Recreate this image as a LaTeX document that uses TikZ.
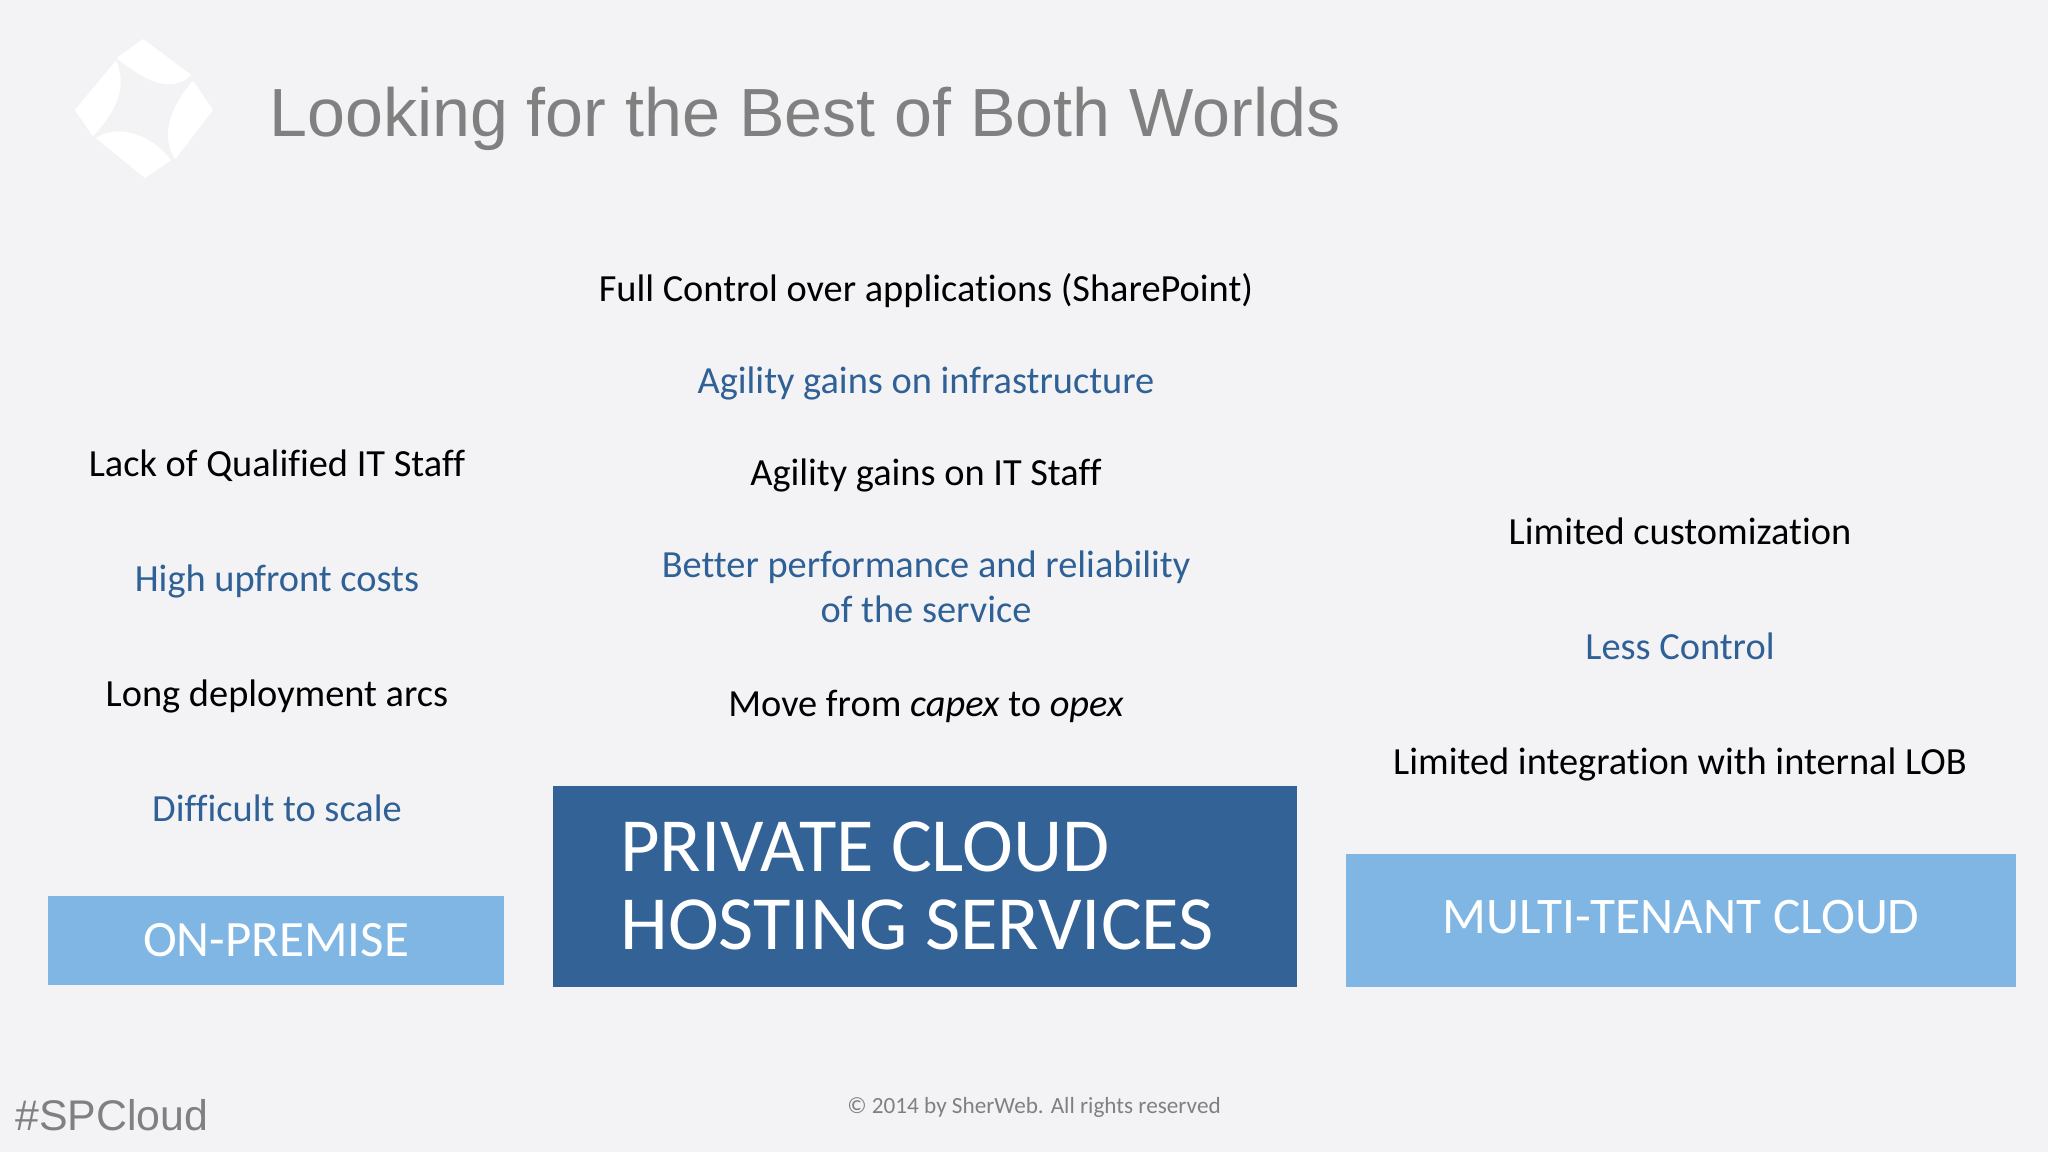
\documentclass[tikz,border=0pt]{standalone}
\usepackage{fontspec}
\setmainfont{Carlito}[Ligatures=NoCommon]
\newfontfamily\arialfont{Liberation Sans}
\usepackage{tikz}
\usetikzlibrary{positioning}
\definecolor{slidebg}{RGB}{243,243,245}
\definecolor{spblue}{RGB}{47,96,150}
\definecolor{spdark}{RGB}{51,98,150}
\definecolor{splight}{RGB}{128,182,228}
\definecolor{spgrey}{RGB}{128,128,128}
\tikzstyle{plain} = [font=\fontsize{21.85}{26}\selectfont, text=black, align=center, inner sep=0pt, anchor=center]
\tikzstyle{accent} = [plain, text=spblue]
\tikzstyle{band} = [rectangle, inner sep=0pt, text=white, font=\fontsize{29}{33}\selectfont, align=center]
\tikzstyle{petal} = [fill=white, draw=white, line width=1pt, line join=round]

\begin{document}
\begin{tikzpicture}[x=0.02cm, y=-0.02cm, node distance=2.3cm]

% Background
\fill[slidebg] (0,0) rectangle (2048,1152);
\useasboundingbox (0,0) rectangle (2048,1152);

% Logo
\fill[petal] (118,58) -- (143,40) -- (190,75) .. controls (175,90) and (150,85) .. (118,58) -- cycle;
\fill[petal] (116,62) -- (76,110) -- (93,135) .. controls (125,100) and (122,80) .. (116,62) -- cycle;
\fill[petal] (193,82) -- (212,110) -- (175,158) .. controls (165,140) and (165,115) .. (193,82) -- cycle;
\fill[petal] (97,138) -- (145,177) -- (170,160) .. controls (150,135) and (120,125) .. (97,138) -- cycle;

% Title
\node (title) [anchor=base west, inner sep=0pt, text=spgrey, font=\arialfont\fontsize{38.8}{46}\selectfont] at (269,137) {Looking for the Best of Both Worlds};

% Left column
\node (staff) [plain] at (277,466) {Lack of Qualified IT Staff};
\node (upfront) [accent, below of=staff] {High upfront costs};
\node (arcs) [plain, below of=upfront, node distance=2.32cm] {Long deployment arcs};
\node (scale) [accent, below of=arcs, node distance=2.22cm] {Difficult to scale};
\node (onprem) [band, fill=splight, minimum width=9.12cm, minimum height=1.78cm] at (276,940) {ON-PREMISE};

% Middle column
\node (control) [plain] at (926,291) {Full Control over applications (SharePoint)};
\node (agility) [accent, below of=control, node distance=1.84cm] {Agility gains on infrastructure};
\node (itstaff) [plain, below of=agility, node distance=1.86cm] {Agility gains on IT Staff};
\node (perf) [accent, below of=itstaff, node distance=2.22cm] {Better performance and reliability\\of the service};
\node (capex) [plain, below of=perf, node distance=2.4cm] {Move from \textit{capex} to \textit{opex}};
\node (private) [band, fill=spdark, minimum width=14.9cm, minimum height=4.02cm] at (925,886.5) {};
\node (privatetext) [anchor=west, inner sep=0pt, text=white, align=left, font=\fontsize{43.6}{44.5}\selectfont] at (620,886) {PRIVATE CLOUD\\HOSTING SERVICES};

% Right column
\node (custom) [plain] at (1680,531) {Limited customization};
\node (less) [accent, below of=custom] {Less Control};
\node (lob) [plain, below of=less, node distance=2.37cm] {Limited integration with internal LOB};
\node (multi) [band, fill=splight, text depth=4.4pt, font=\fontsize{29.2}{33}\selectfont, minimum width=13.4cm, minimum height=2.66cm] at (1681,920.5) {MULTI-TENANT CLOUD};

% Footer
\node (tag) [anchor=base west, inner sep=0pt, text=spgrey, font=\arialfont\fontsize{24.4}{28}\selectfont] at (15,1130) {\#SPCloud};
\node (copy) [inner sep=0pt, text=spgrey, font=\fontsize{13.2}{16}\selectfont] at (1034,1107) {© 2014 by SherWeb. All rights reserved};
\end{tikzpicture}
\end{document}
